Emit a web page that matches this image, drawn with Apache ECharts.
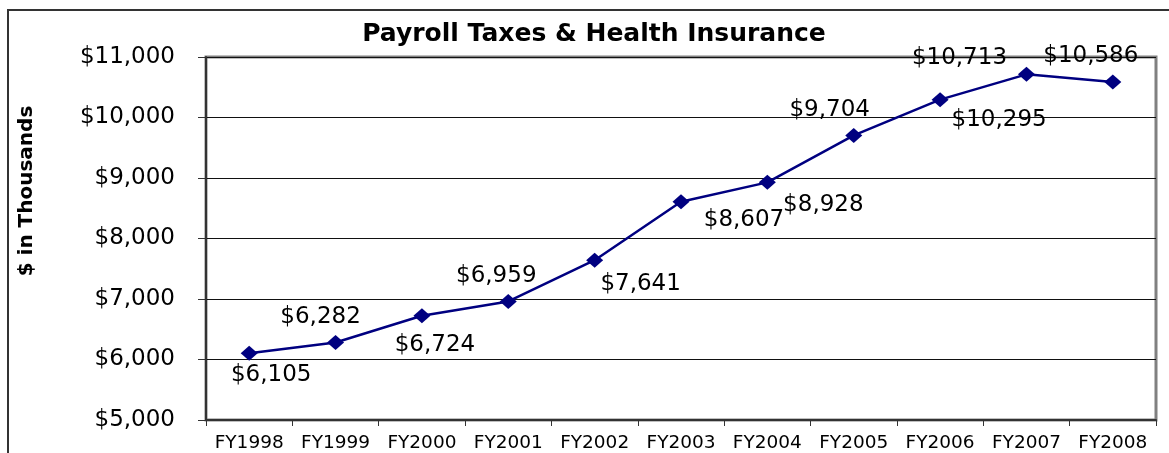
<!DOCTYPE html>
<html>
<head>
<meta charset="utf-8">
<script src="https://cdn.jsdelivr.net/npm/echarts@6/dist/echarts.min.js"></script>
<style>
html,body{margin:0;padding:0;background:#fff;}
#main{width:1169px;height:453px;}
</style>
</head>
<body>
<div id="main"></div>
<script>
var years = ['FY1998','FY1999','FY2000','FY2001','FY2002','FY2003','FY2004','FY2005','FY2006','FY2007','FY2008'];
var payroll = [6105, 6282, 6724, 6959, 7641, 8607, 8928, 9704, 10295, 10713, 10586];
var yTicks = [5000, 6000, 7000, 8000, 9000, 10000, 11000];
// where each value label sits, relative to its marker
var labelOffset = [[22,22],[-15,-25],[13,29],[-12,-25],[46,24],[63,18],[56,23],[-24,-25],[59,20],[-67,-16],[-22,-26]];

function money(v){
	return '$' + v.toString().replace(/\B(?=(\d{3})+(?!\d))/g, ',');
}

var myChart = echarts.init(document.getElementById('main'));
var seriesData = [];
for(var i=0;i<payroll.length;i++){
	seriesData.push({value:payroll[i], label:{offset:labelOffset[i]}});
}
var option = {
	animation: false,
	backgroundColor: '#fff',
	title: {
		text: 'Payroll Taxes & Health Insurance',
		left: 589,
		textAlign: 'center',
		top: 17,
		textStyle: {fontFamily:'DejaVu Sans', fontWeight:'bold', fontSize:25, color:'#000'}
	},
	graphic: [
		{type:'rect', shape:{x:8,y:10,width:1200,height:500}, style:{fill:null, stroke:'#333', lineWidth:2}},
		{type:'text', x:27, y:191, rotation:Math.PI/2,
			style:{text:'$ in Thousands', font:'bold 20px "DejaVu Sans"', fill:'#000', align:'center', verticalAlign:'middle'}}
	],
	grid: {left:206, right:13, top:57, bottom:33, show:true, borderColor:'#808080', borderWidth:3, backgroundColor:'#fff'},
	xAxis: {
		type: 'category',
		data: years,
		boundaryGap: true,
		axisLine: {lineStyle:{color:'#333', width:2}},
		axisTick: {show:true, length:6, lineStyle:{color:'#333'}},
		axisLabel: {interval:0, fontFamily:'DejaVu Sans', fontSize:18.5, color:'#000', margin:14}
	},
	yAxis: {
		type: 'value',
		min: yTicks[0],
		max: yTicks[yTicks.length-1],
		interval: 1000,
		axisLine: {show:true, lineStyle:{color:'#333', width:2}},
		axisTick: {show:true, length:8, lineStyle:{color:'#333'}},
		axisLabel: {fontFamily:'DejaVu Sans', fontSize:23, color:'#000', margin:31, formatter:money},
		splitLine: {lineStyle:{color:'#111', width:1}}
	},
	series: [{
		type: 'line',
		data: seriesData,
		symbol: 'diamond',
		symbolSize: [17,15],
		lineStyle: {color:'#000080', width:2.5},
		itemStyle: {color:'#000080'},
		label: {
			show: true,
			position: 'inside',
			fontFamily: 'DejaVu Sans',
			fontSize: 23,
			color: '#000',
			formatter: function(p){ return money(p.value); }
		}
	}]
};
myChart.setOption(option, true);
</script>
</body>
</html>
